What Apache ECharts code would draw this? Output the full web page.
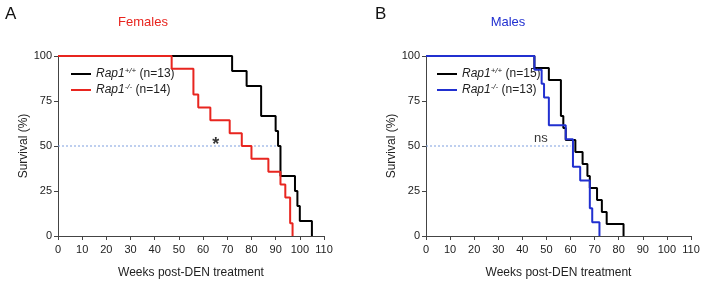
<!DOCTYPE html>
<html>
<head>
<meta charset="utf-8">
<script src="https://cdn.jsdelivr.net/npm/echarts@6/dist/echarts.min.js"></script>
<style>
  html, body { margin: 0; padding: 0; background: #fff; }
  #chart { width: 701px; height: 282px; }
</style>
</head>
<body>
<div id="chart"></div>
<script>
// Kaplan-Meier curves: week of each drop and survival (%) after it
const femWtWeeks = [72, 78, 84, 90, 91, 92, 98, 99, 100, 105];
const femWtSurv = [91.7, 83.3, 66.7, 58.3, 50, 33.3, 25, 16.7, 8.3, 0];
const femKoWeeks = [47, 56, 58, 63, 71, 76, 80, 87, 92, 94, 96, 97];
const femKoSurv = [92.9, 78.6, 71.4, 64.3, 57.1, 50, 42.9, 35.7, 28.6, 21.4, 7.1, 0];
const maleWtWeeks = [45, 51, 56, 57, 58, 62, 65, 67, 68, 71, 73, 75, 82];
const maleWtSurv = [93.3, 86.7, 66.7, 60, 53.3, 46.7, 40, 33.3, 26.7, 20, 13.3, 6.7, 0];
const maleKoWeeks = [45, 48, 49, 51, 58, 61, 64, 68, 69, 72];
const maleKoSurv = [92.3, 84.6, 76.9, 61.5, 53.8, 38.5, 30.8, 15.4, 7.7, 0];

const xTicks = [0, 10, 20, 30, 40, 50, 60, 70, 80, 90, 100, 110];
const yTicks = [0, 25, 50, 75, 100];
const medianLineEnd = [91, 60];        // dotted 50% guide, end week per panel
const annotations = [['*', 65.2, 50.5], ['ns', 47.7, 54]];
const panelTitles = ['Females', 'Males'];
const nWt = [13, 15];
const nKo = [14, 13];

const font = '"Liberation Sans", Arial, sans-serif';
const red = '#e8251f';
const blue = '#2130d0';

function km(weeks, surv) {
  const pts = [[0, 100]];
  weeks.forEach((w, i) => pts.push([w, surv[i]]));
  return pts;
}

const chart = echarts.init(document.getElementById('chart'));

const grids = [
  { left: 58, top: 56, width: 266, height: 180, outerBoundsMode: 'none' },
  { left: 426, top: 56, width: 265, height: 180, outerBoundsMode: 'none' }
];

const xAxes = grids.map((g, i) => ({
  type: 'value', gridIndex: i,
  min: xTicks[0], max: xTicks[xTicks.length - 1], interval: xTicks[1] - xTicks[0],
  name: 'Weeks post-DEN treatment', nameLocation: 'middle', nameGap: 31,
  nameTextStyle: { fontSize: 12, color: '#222', fontFamily: font },
  axisLine: { lineStyle: { color: '#444', width: 1 } },
  axisTick: { length: 4, lineStyle: { color: '#444' } },
  axisLabel: { fontSize: 11, color: '#222', fontFamily: font, margin: 8 },
  splitLine: { show: false }
}));

const yAxes = grids.map((g, i) => ({
  type: 'value', gridIndex: i,
  min: yTicks[0], max: yTicks[yTicks.length - 1], interval: yTicks[1] - yTicks[0],
  name: 'Survival (%)', nameLocation: 'middle', nameGap: 28,
  nameTextStyle: { fontSize: 12, color: '#222', fontFamily: font },
  axisLine: { show: true, lineStyle: { color: '#444', width: 1 } },
  axisTick: { show: true, length: 4, lineStyle: { color: '#444' } },
  axisLabel: { fontSize: 11, color: '#222', fontFamily: font, margin: 6 },
  splitLine: { show: false }
}));

function stepSeries(name, idx, data, color, z) {
  return {
    name: name, type: 'line', step: 'end', xAxisIndex: idx, yAxisIndex: idx,
    data: data, symbol: 'none', z: z,
    lineStyle: { color: color, width: 2 }, itemStyle: { color: color }
  };
}

const series = [
  stepSeries('fWT', 0, km(femWtWeeks, femWtSurv), '#000', 3),
  stepSeries('fKO', 0, km(femKoWeeks, femKoSurv), red, 4),
  stepSeries('mWT', 1, km(maleWtWeeks, maleWtSurv), '#000', 3),
  stepSeries('mKO', 1, km(maleKoWeeks, maleKoSurv), blue, 4)
];

// dotted median guide lines
medianLineEnd.forEach((end, i) => {
  series.push({
    type: 'line', xAxisIndex: i, yAxisIndex: i, symbol: 'none', z: 1,
    data: [[0, 50], [end, 50]], silent: true,
    lineStyle: { color: '#7f9fe0', width: 1, type: [2, 2] }
  });
});

// significance labels
annotations.forEach((a, i) => {
  series.push({
    type: 'scatter', xAxisIndex: i, yAxisIndex: i, symbolSize: 1, z: 5,
    itemStyle: { color: 'rgba(0,0,0,0)' },
    data: [[a[1], a[2]]], silent: true,
    label: {
      show: true, position: 'inside', formatter: a[0],
      fontFamily: font, color: '#000', textBorderWidth: 0,
      fontSize: i === 0 ? 18 : 13, fontWeight: i === 0 ? 'bold' : 'normal'
    }
  });
});

const legendNames = {
  fWT: '{i|Rap1}{s|+/+} (n=' + nWt[0] + ')',
  fKO: '{i|Rap1}{s|-/-} (n=' + nKo[0] + ')',
  mWT: '{i|Rap1}{s|+/+} (n=' + nWt[1] + ')',
  mKO: '{i|Rap1}{s|-/-} (n=' + nKo[1] + ')'
};
const legendRich = {
  i: { fontStyle: 'italic', fontSize: 12, fontFamily: font, color: '#222' },
  s: { fontStyle: 'italic', fontSize: 8, fontFamily: font, color: '#222', verticalAlign: 'top', padding: [0, 0, 6, 0] }
};

const legends = [['fWT', 'fKO'], ['mWT', 'mKO']].map((names, i) => ({
  data: names, orient: 'vertical', left: i === 0 ? 66 : 432, top: 62,
  icon: 'rect', itemWidth: 20, itemHeight: 2, itemGap: 3,
  formatter: n => legendNames[n],
  textStyle: { fontSize: 12, fontFamily: font, color: '#222', rich: legendRich }
}));

const option = {
  animation: false,
  grid: grids,
  xAxis: xAxes,
  yAxis: yAxes,
  legend: legends,
  title: [
    { text: 'A', left: 0, top: 1, textStyle: { fontSize: 17, fontWeight: 'normal', fontFamily: font, color: '#111' } },
    { text: 'B', left: 370, top: 1, textStyle: { fontSize: 17, fontWeight: 'normal', fontFamily: font, color: '#111' } },
    { text: panelTitles[0], left: 138, top: 11, textAlign: 'center', textStyle: { fontSize: 13, fontWeight: 'normal', fontFamily: font, color: red } },
    { text: panelTitles[1], left: 503, top: 11, textAlign: 'center', textStyle: { fontSize: 13, fontWeight: 'normal', fontFamily: font, color: blue } }
  ],
  series: series
};

chart.setOption(option);
</script>
</body>
</html>
